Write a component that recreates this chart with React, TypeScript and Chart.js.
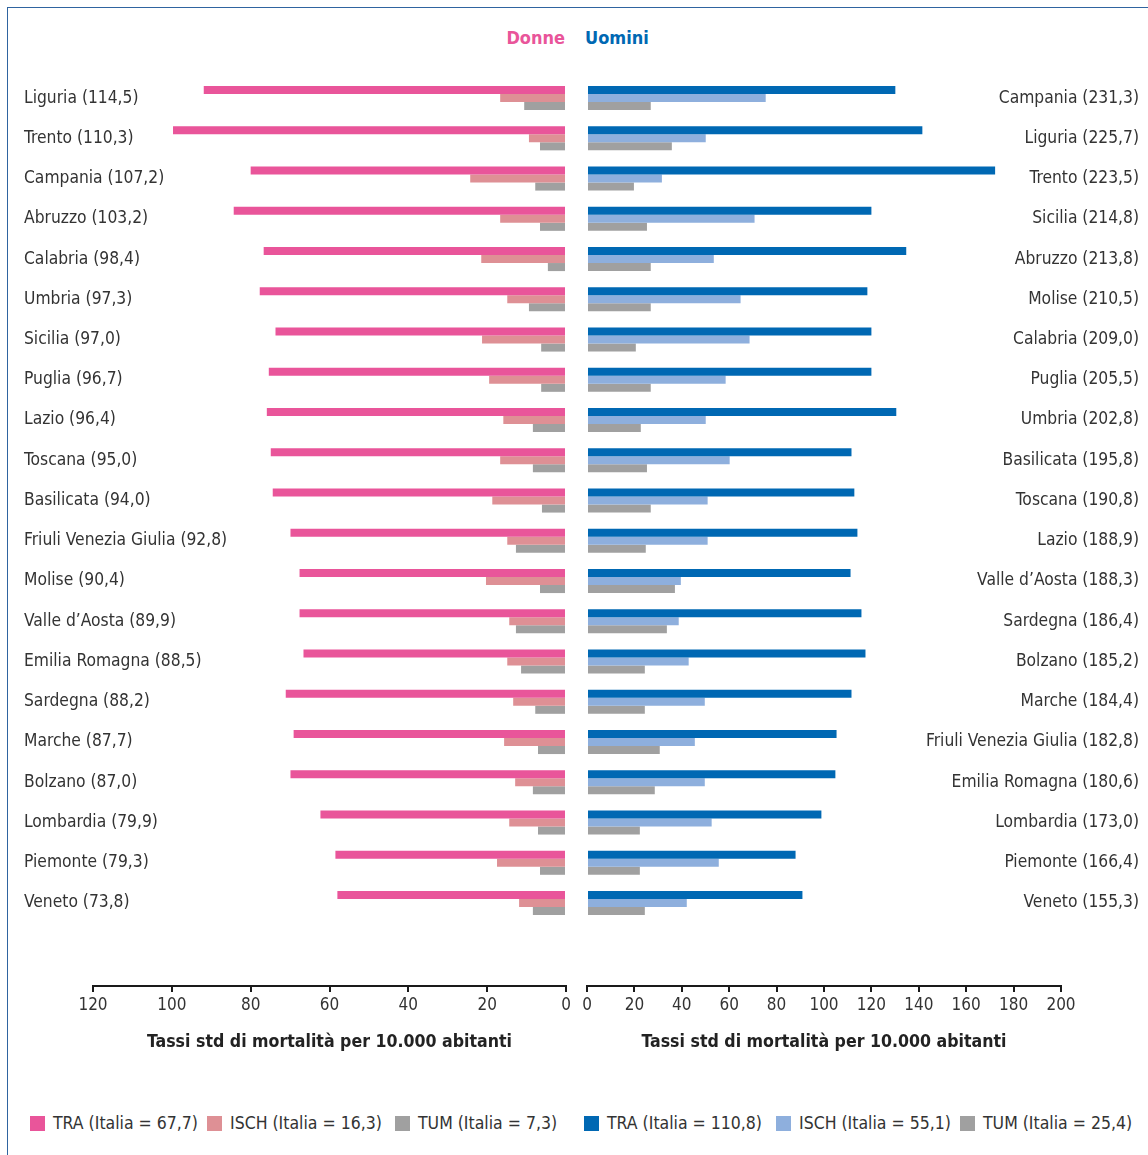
import React, { useEffect, useRef } from 'react';
import { Chart, registerables } from 'chart.js';

Chart.register(...registerables);

// ---------- DATA ----------
const donneRegions = [
  'Liguria (114,5)', 'Trento (110,3)', 'Campania (107,2)', 'Abruzzo (103,2)', 'Calabria (98,4)',
  'Umbria (97,3)', 'Sicilia (97,0)', 'Puglia (96,7)', 'Lazio (96,4)', 'Toscana (95,0)',
  'Basilicata (94,0)', 'Friuli Venezia Giulia (92,8)', 'Molise (90,4)', 'Valle d\u2019Aosta (89,9)',
  'Emilia Romagna (88,5)', 'Sardegna (88,2)', 'Marche (87,7)', 'Bolzano (87,0)',
  'Lombardia (79,9)', 'Piemonte (79,3)', 'Veneto (73,8)',
];
const donneTRA = [91.9, 99.7, 80.0, 84.3, 76.7, 77.7, 73.7, 75.4, 75.9, 74.9, 74.4, 69.9, 67.6, 67.6, 66.6, 71.1, 69.1, 69.9, 62.3, 58.5, 58.0];
const donneISCH = [16.7, 9.4, 24.3, 16.7, 21.5, 14.9, 21.3, 19.5, 15.9, 16.7, 18.7, 14.9, 20.3, 14.4, 14.9, 13.4, 15.7, 12.9, 14.4, 17.5, 11.9];
const donneTUM = [10.6, 6.6, 7.8, 6.6, 4.6, 9.4, 6.3, 6.3, 8.4, 8.4, 6.1, 12.7, 6.6, 12.7, 11.4, 7.8, 7.1, 8.4, 7.1, 6.6, 8.4];

const uominiRegions = [
  'Campania (231,3)', 'Liguria (225,7)', 'Trento (223,5)', 'Sicilia (214,8)', 'Abruzzo (213,8)',
  'Molise (210,5)', 'Calabria (209,0)', 'Puglia (205,5)', 'Umbria (202,8)', 'Basilicata (195,8)',
  'Toscana (190,8)', 'Lazio (188,9)', 'Valle d\u2019Aosta (188,3)', 'Sardegna (186,4)', 'Bolzano (185,2)',
  'Marche (184,4)', 'Friuli Venezia Giulia (182,8)', 'Emilia Romagna (180,6)', 'Lombardia (173,0)',
  'Piemonte (166,4)', 'Veneto (155,3)',
];
const uominiTRA = [130.1, 141.5, 172.2, 120.0, 134.7, 118.3, 120.0, 120.0, 130.5, 111.6, 112.8, 114.1, 111.2, 115.8, 117.5, 111.6, 105.3, 104.8, 98.9, 88.0, 90.9];
const uominiISCH = [75.4, 50.1, 31.6, 70.7, 53.5, 64.8, 68.6, 58.5, 50.1, 60.2, 50.9, 50.9, 39.6, 38.7, 42.9, 49.7, 45.5, 49.7, 52.6, 55.6, 42.1];
const uominiTUM = [26.9, 35.8, 19.8, 25.3, 26.9, 26.9, 20.6, 26.9, 22.7, 25.3, 26.9, 24.8, 37.1, 33.7, 24.4, 24.4, 30.7, 28.6, 22.3, 22.3, 24.4];

const donneMax = 120;
const uominiMax = 200;
const tickStep = 20;

const legendDonne = ['TRA (Italia = 67,7)', 'ISCH (Italia = 16,3)', 'TUM (Italia = 7,3)'];
const legendUomini = ['TRA (Italia = 110,8)', 'ISCH (Italia = 55,1)', 'TUM (Italia = 25,4)'];
const titleDonne = 'Donne';
const titleUomini = 'Uomini';
const axisTitle = 'Tassi std di mortalit\u00e0 per 10.000 abitanti';

// ---------- STYLE ----------
const FONT = '"Liberation Sans Narrow", "DejaVu Sans Condensed", "Roboto Condensed", Roboto, sans-serif';
const TEXT = '#333333';
const colorsDonne = ['#e9559a', '#de9095', '#a0a0a0'];
const colorsUomini = ['#0068b3', '#8eafdd', '#a0a0a0'];
const AXIS_POS = 22.06; // category-scale position of the x axis line (below the last row)

interface SideProps {
  labels: string[];
  series: number[][];
  names: string[];
  colors: string[];
  max: number;
  reverse: boolean;
  side: 'left' | 'right';
  left: number;
  width: number;
  padding: { left: number; right: number; top: number; bottom: number };
  labelPad: number;
}

const CANVAS_TOP = 60;
const CANVAS_H = 1000;

function SideChart(p: SideProps) {
  const ref = useRef<HTMLCanvasElement | null>(null);
  useEffect(() => {
    if (!ref.current) return;
    const chart = new Chart(ref.current, {
      type: 'bar',
      data: {
        labels: p.labels,
        datasets: p.series.map((s, i) => ({
          label: p.names[i],
          data: s,
          backgroundColor: p.colors[i],
          borderWidth: 0,
          categoryPercentage: 0.6,
          barPercentage: 1.0,
        })),
      },
      options: {
        indexAxis: 'y',
        animation: false,
        responsive: false,
        maintainAspectRatio: false,
        layout: { padding: p.padding },
        plugins: { legend: { display: false }, tooltip: { enabled: false }, title: { display: false } },
        scales: {
          x: {
            type: 'linear',
            min: 0,
            max: p.max,
            reverse: p.reverse,
            position: { y: AXIS_POS } as any,
            ticks: { stepSize: tickStep, color: TEXT, font: { family: FONT, size: 17 }, padding: 4, maxRotation: 0 },
            grid: { display: true, drawOnChartArea: false, drawTicks: true, tickLength: 5, color: '#1a1a1a', lineWidth: 2 },
            border: { display: true, color: '#1a1a1a', width: 2 },
          },
          y: {
            type: 'category',
            position: p.side,
            ticks: { color: TEXT, font: { family: FONT, size: 17.3 }, mirror: true, padding: p.labelPad, autoSkip: false },
            grid: { display: false, drawTicks: false },
            border: { display: false },
            afterFit: (scale: any) => {
              scale.width = 0;
              scale.paddingTop = 0;
              scale.paddingBottom = 0;
            },
          },
        },
      } as any,
    });
    return () => chart.destroy();
  }, []);
  return (
    <canvas
      ref={ref}
      width={p.width}
      height={CANVAS_H}
      style={{ position: 'absolute', left: p.left, top: CANVAS_TOP, width: p.width, height: CANVAS_H }}
    />
  );
}

const topPad = 17.9;
const botPad = CANVAS_H - (923.1 - CANVAS_TOP);

function LegendItem({ x, color, text }: { x: number; color: string; text: string }) {
  return (
    <div style={{ position: 'absolute', left: x, top: 1111, height: 24, display: 'flex', alignItems: 'center', whiteSpace: 'nowrap' }}>
      <div style={{ width: 15, height: 15, background: color, marginRight: 8 }} />
      <span style={{ fontFamily: FONT, fontSize: 17.5, color: TEXT }}>{text}</span>
    </div>
  );
}

export default function App() {
  const legendXDonne = [30, 207, 395];
  const legendXUomini = [584, 776, 960];
  return (
    <div style={{ position: 'absolute', left: 0, top: 0, width: 1148, height: 1155, background: '#fff', overflow: 'hidden' }}>
      <div style={{ position: 'absolute', left: 7, top: 7, width: 1300, height: 1300, border: '1.5px solid #2f64a0' }} />
      <div style={{ position: 'absolute', right: 1148 - 565, top: 27, fontFamily: FONT, fontWeight: 'bold', fontSize: 18, color: colorsDonne[0], whiteSpace: 'nowrap' }}>{titleDonne}</div>
      <div style={{ position: 'absolute', left: 585, top: 27, fontFamily: FONT, fontWeight: 'bold', fontSize: 18, color: colorsUomini[0], whiteSpace: 'nowrap' }}>{titleUomini}</div>
      <SideChart
        labels={donneRegions}
        series={[donneTRA, donneISCH, donneTUM]}
        names={legendDonne}
        colors={colorsDonne}
        max={donneMax}
        reverse={true}
        side="left"
        left={10}
        width={570}
        padding={{ left: 83, right: 14, top: topPad, bottom: botPad }}
        labelPad={-69}
      />
      <SideChart
        labels={uominiRegions}
        series={[uominiTRA, uominiISCH, uominiTUM]}
        names={legendUomini}
        colors={colorsUomini}
        max={uominiMax}
        reverse={false}
        side="right"
        left={570}
        width={578}
        padding={{ left: 17, right: 87, top: topPad, bottom: botPad }}
        labelPad={78}
      />
      <div style={{ position: 'absolute', left: 93, width: 473, top: 1031, textAlign: 'center', fontFamily: FONT, fontWeight: 'bold', fontSize: 17.6, color: '#222' }}>{axisTitle}</div>
      <div style={{ position: 'absolute', left: 587, width: 474, top: 1031, textAlign: 'center', fontFamily: FONT, fontWeight: 'bold', fontSize: 17.6, color: '#222' }}>{axisTitle}</div>
      {legendDonne.map((t, i) => <LegendItem key={'d' + i} x={legendXDonne[i]} color={colorsDonne[i]} text={t} />)}
      {legendUomini.map((t, i) => <LegendItem key={'u' + i} x={legendXUomini[i]} color={colorsUomini[i]} text={t} />)}
    </div>
  );
}
